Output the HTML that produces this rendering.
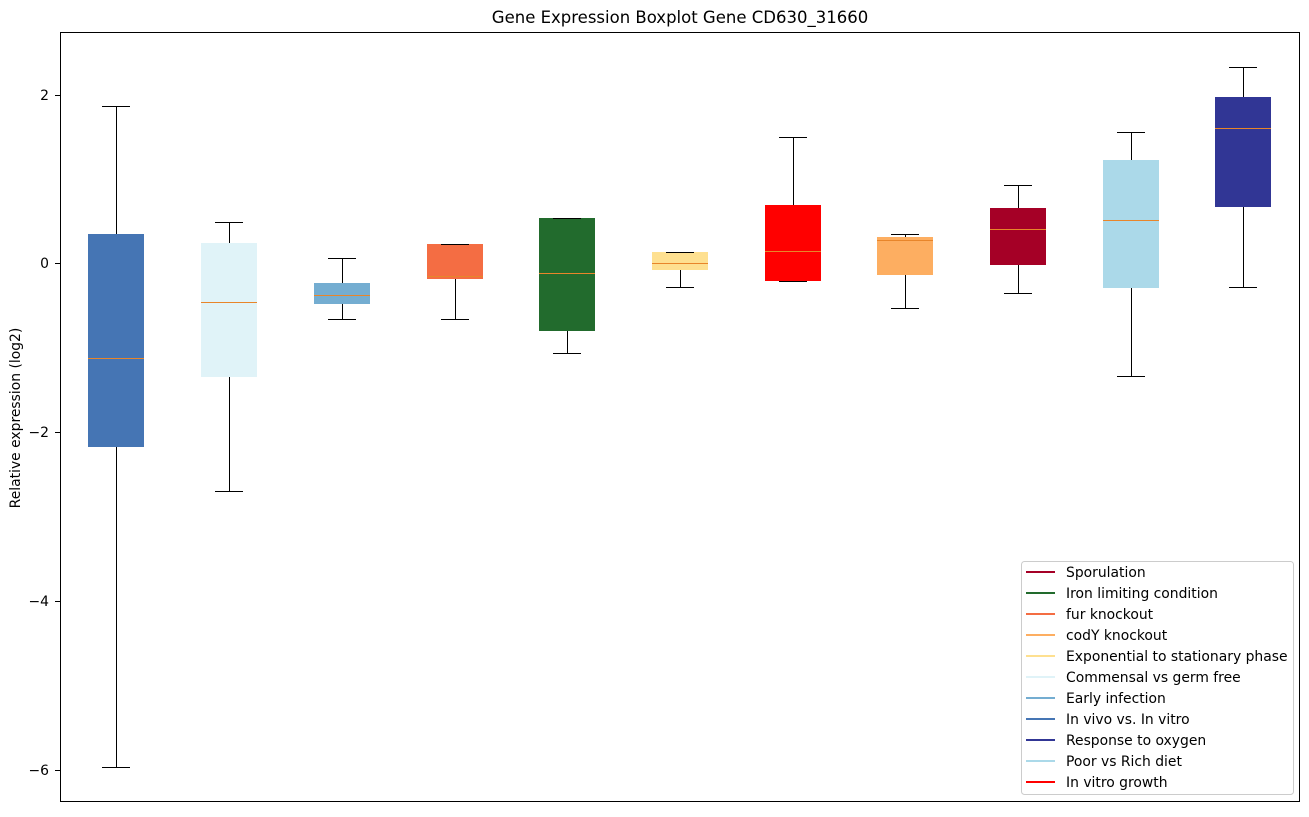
<!DOCTYPE html>
<html><head><meta charset="utf-8"><style>
html,body{margin:0;padding:0;background:#fff;}
text{font-family:"DejaVu Sans","Liberation Sans",sans-serif;fill:#000;}
</style></head><body>
<svg width="1309" height="812" xmlns="http://www.w3.org/2000/svg">
<rect width="1309" height="812" fill="#fff"/>
<text x="680" y="23" font-size="16.5" text-anchor="middle">Gene Expression Boxplot Gene CD630_31660</text>
<g stroke="#000" stroke-width="1">
<line x1="55" y1="95.5" x2="60" y2="95.5"/><line x1="55" y1="263.5" x2="60" y2="263.5"/><line x1="55" y1="432.5" x2="60" y2="432.5"/><line x1="55" y1="601.5" x2="60" y2="601.5"/><line x1="55" y1="770.5" x2="60" y2="770.5"/>
</g>
<g font-size="13.9" text-anchor="end">
<text x="49" y="100">2</text><text x="49" y="268">0</text><text x="49" y="437">−2</text><text x="49" y="606">−4</text><text x="49" y="775">−6</text>
</g>
<text x="0" y="0" font-size="13.9" text-anchor="middle" transform="translate(20,418) rotate(-90)">Relative expression (log2)</text>

<g>
<rect x="88" y="234" width="56" height="213" fill="#4575b4"/>
<rect x="201" y="243" width="56" height="134" fill="#e0f3f8"/>
<rect x="314" y="283" width="56" height="21" fill="#74add1"/>
<rect x="427" y="244" width="56" height="35" fill="#f46d43"/>
<rect x="539" y="218" width="56" height="113" fill="#226b2d"/>
<rect x="652" y="252" width="56" height="18" fill="#fee090"/>
<rect x="765" y="205" width="56" height="76" fill="#ff0000"/>
<rect x="877" y="237" width="56" height="38" fill="#fdae61"/>
<rect x="990" y="208" width="56" height="57" fill="#a50026"/>
<rect x="1103" y="160" width="56" height="128" fill="#abd9e9"/>
<rect x="1215" y="97" width="56" height="110" fill="#313695"/>
</g>
<g stroke="#000" stroke-width="1">
<line x1="116.5" y1="106" x2="116.5" y2="234"/><line x1="116.5" y1="447" x2="116.5" y2="767"/><line x1="102" y1="106.5" x2="130" y2="106.5"/><line x1="102" y1="767.5" x2="130" y2="767.5"/>
<line x1="229.5" y1="222" x2="229.5" y2="243"/><line x1="229.5" y1="377" x2="229.5" y2="491"/><line x1="215" y1="222.5" x2="243" y2="222.5"/><line x1="215" y1="491.5" x2="243" y2="491.5"/>
<line x1="342.5" y1="258" x2="342.5" y2="283"/><line x1="342.5" y1="304" x2="342.5" y2="319"/><line x1="328" y1="258.5" x2="356" y2="258.5"/><line x1="328" y1="319.5" x2="356" y2="319.5"/>
<line x1="455.5" y1="279" x2="455.5" y2="319"/><line x1="441" y1="244.5" x2="469" y2="244.5"/><line x1="441" y1="319.5" x2="469" y2="319.5"/>
<line x1="567.5" y1="331" x2="567.5" y2="353"/><line x1="553" y1="218.5" x2="581" y2="218.5"/><line x1="553" y1="353.5" x2="581" y2="353.5"/>
<line x1="680.5" y1="270" x2="680.5" y2="287"/><line x1="666" y1="252.5" x2="694" y2="252.5"/><line x1="666" y1="287.5" x2="694" y2="287.5"/>
<line x1="793.5" y1="137" x2="793.5" y2="205"/><line x1="779" y1="137.5" x2="807" y2="137.5"/><line x1="779" y1="281.5" x2="807" y2="281.5"/>
<line x1="905.5" y1="234" x2="905.5" y2="237"/><line x1="905.5" y1="275" x2="905.5" y2="308"/><line x1="891" y1="234.5" x2="919" y2="234.5"/><line x1="891" y1="308.5" x2="919" y2="308.5"/>
<line x1="1018.5" y1="185" x2="1018.5" y2="208"/><line x1="1018.5" y1="265" x2="1018.5" y2="293"/><line x1="1004" y1="185.5" x2="1032" y2="185.5"/><line x1="1004" y1="293.5" x2="1032" y2="293.5"/>
<line x1="1131.5" y1="132" x2="1131.5" y2="160"/><line x1="1131.5" y1="288" x2="1131.5" y2="376"/><line x1="1117" y1="132.5" x2="1145" y2="132.5"/><line x1="1117" y1="376.5" x2="1145" y2="376.5"/>
<line x1="1243.5" y1="67" x2="1243.5" y2="97"/><line x1="1243.5" y1="207" x2="1243.5" y2="287"/><line x1="1229" y1="67.5" x2="1257" y2="67.5"/><line x1="1229" y1="287.5" x2="1257" y2="287.5"/>
</g>
<g stroke="#e8852a" stroke-width="1">
<line x1="88" y1="358.5" x2="144" y2="358.5"/>
<line x1="201" y1="302.5" x2="257" y2="302.5"/>
<line x1="314" y1="295.5" x2="370" y2="295.5"/>
<line x1="427" y1="276.5" x2="483" y2="276.5"/>
<line x1="539" y1="273.5" x2="595" y2="273.5"/>
<line x1="652" y1="263.5" x2="708" y2="263.5"/>
<line x1="765" y1="251.5" x2="821" y2="251.5"/>
<line x1="877" y1="240.5" x2="933" y2="240.5"/>
<line x1="990" y1="229.5" x2="1046" y2="229.5"/>
<line x1="1103" y1="220.5" x2="1159" y2="220.5"/>
<line x1="1215" y1="128.5" x2="1271" y2="128.5"/>
</g>
<rect x="60.5" y="32.5" width="1239" height="769" fill="none" stroke="#000"/>
<rect x="1021.5" y="561.5" width="272" height="233" rx="3" fill="#fff" stroke="#ccc"/>
<g font-size="13.9" stroke-width="2">
<line x1="1026" y1="572" x2="1055" y2="572" stroke="#a50026"/><text x="1066" y="577">Sporulation</text>
<line x1="1026" y1="593" x2="1055" y2="593" stroke="#226b2d"/><text x="1066" y="598">Iron limiting condition</text>
<line x1="1026" y1="614" x2="1055" y2="614" stroke="#f46d43"/><text x="1066" y="619">fur knockout</text>
<line x1="1026" y1="635" x2="1055" y2="635" stroke="#fdae61"/><text x="1066" y="640">codY knockout</text>
<line x1="1026" y1="656" x2="1055" y2="656" stroke="#fee090"/><text x="1066" y="661">Exponential to stationary phase</text>
<line x1="1026" y1="677" x2="1055" y2="677" stroke="#e0f3f8"/><text x="1066" y="682">Commensal vs germ free</text>
<line x1="1026" y1="698" x2="1055" y2="698" stroke="#74add1"/><text x="1066" y="703">Early infection</text>
<line x1="1026" y1="719" x2="1055" y2="719" stroke="#4575b4"/><text x="1066" y="724">In vivo vs. In vitro</text>
<line x1="1026" y1="740" x2="1055" y2="740" stroke="#313695"/><text x="1066" y="745">Response to oxygen</text>
<line x1="1026" y1="761" x2="1055" y2="761" stroke="#abd9e9"/><text x="1066" y="766">Poor vs Rich diet</text>
<line x1="1026" y1="782" x2="1055" y2="782" stroke="#ff0000"/><text x="1066" y="787">In vitro growth</text>
</g>
</svg>
</body></html>
